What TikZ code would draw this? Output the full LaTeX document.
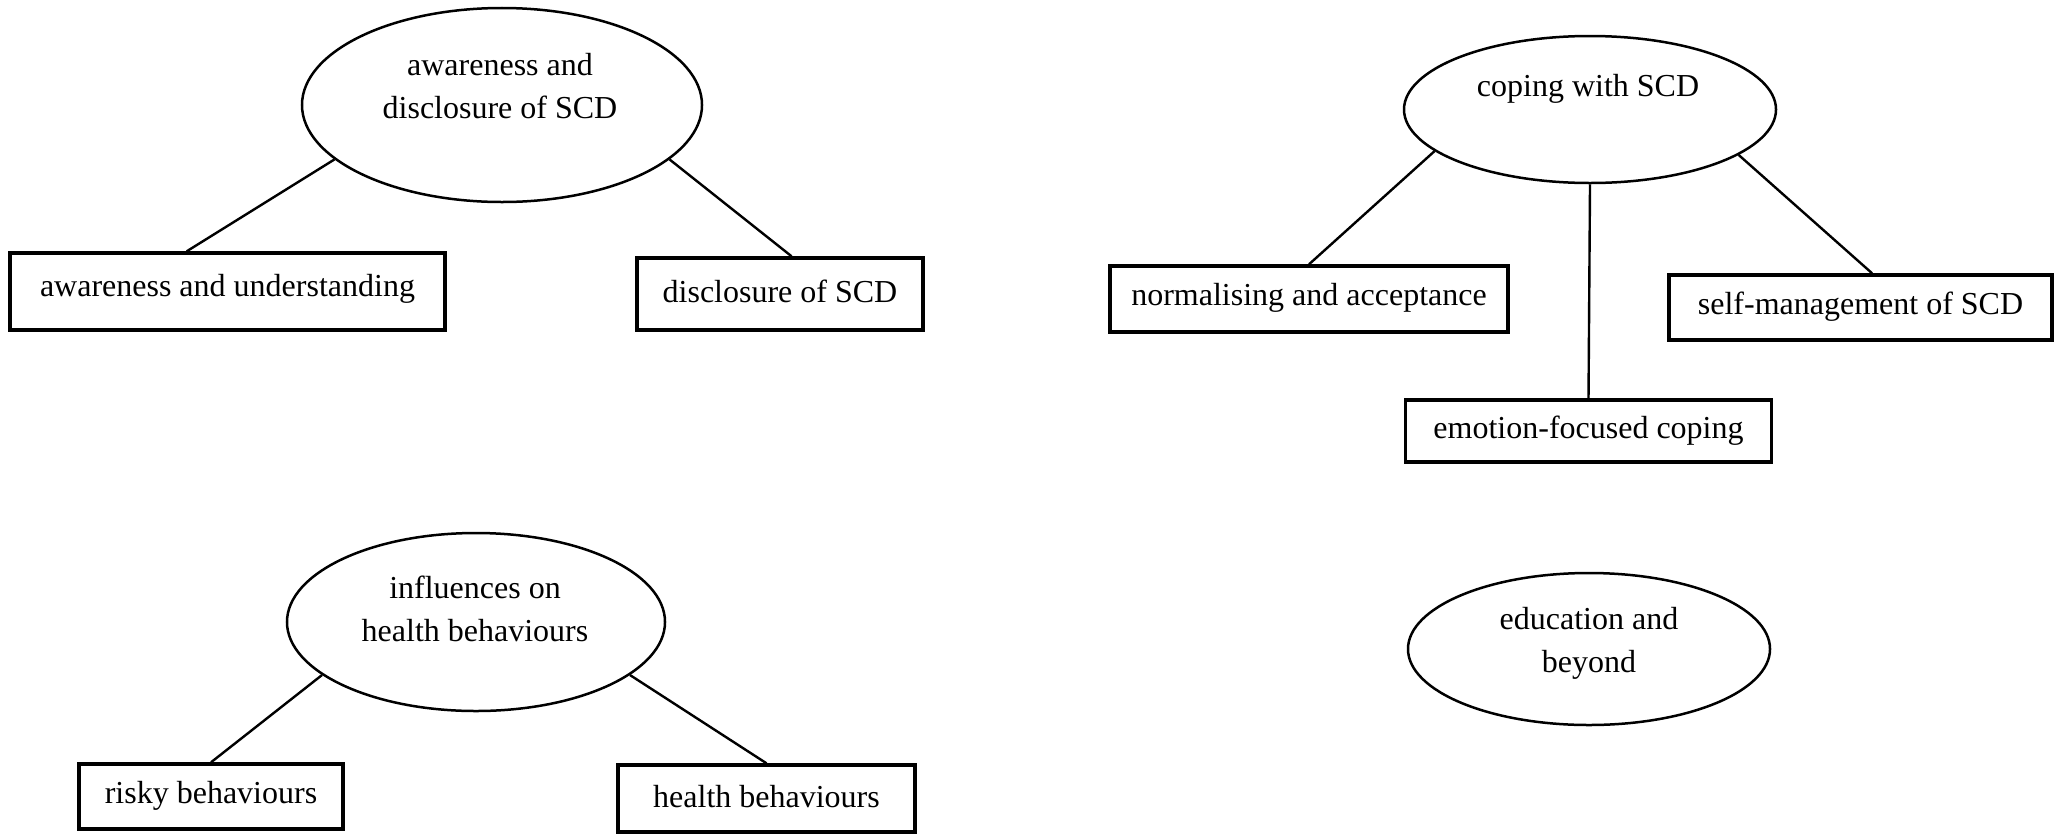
\documentclass[tikz,border=0pt]{standalone}
\usepackage{fontspec}
\setmainfont{Liberation Serif}
\usetikzlibrary{shapes.geometric,calc}
\tikzset{
  ell/.style={draw, ellipse, line width=1.25bp, inner sep=0pt},
  boxnode/.style={draw, rectangle, line width=1.7bp, inner sep=0pt},
  txt/.style={align=center, inner sep=0pt, font=\fontsize{16bp}{21.5bp}\selectfont},
  conn/.style={line width=1.2bp},
}
\begin{document}
\begin{tikzpicture}[x=0.5bp, y=-0.5bp]
\useasboundingbox (0,0) rectangle (2060,834);
% top-left group
\node[ell, minimum width=400bp*0.5, minimum height=194bp*0.5] (A) at (502,105) {};
\node[txt] (At) at (500,86) {awareness and\\disclosure of SCD};
\node[boxnode, minimum width=435bp*0.5, minimum height=77bp*0.5] (AU) at (227.5,291.5) {};
\node[txt] (AUt) at (227.5,289) {awareness and understanding};
\node[boxnode, minimum width=286bp*0.5, minimum height=72bp*0.5] (DS) at (780,294) {};
\node[txt] (DSt) at (780,291) {disclosure of SCD};
\draw[conn] (A.198) -- ($(AU.north west)!0.407!(AU.north east)$);
\draw[conn] (A.342.4) -- ($(DS.north west)!0.54!(DS.north east)$);
% top-right group
\node[ell, minimum width=372bp*0.5, minimum height=147bp*0.5] (C) at (1590,109.5) {};
\node[txt] (Ct) at (1588,89) {coping with SCD};
\node[boxnode, minimum width=398bp*0.5, minimum height=66bp*0.5] (NA) at (1309,299) {};
\node[txt] (NAt) at (1309,298) {normalising and acceptance};
\node[boxnode, minimum width=383bp*0.5, minimum height=65bp*0.5] (SM) at (1860.5,307.5) {};
\node[txt] (SMt) at (1860.5,307) {self-management of SCD};
\node[boxnode, minimum width=366bp*0.5, minimum height=62bp*0.5] (EF) at (1588.5,431) {};
\node[txt] (EFt) at (1588.5,431) {emotion-focused coping};
\draw[conn] (C.195.7) -- (NA.north);
\draw[conn] (C.south) -- (EF.north);
\draw[conn] (C.343.3) -- ($(SM.north west)!0.53!(SM.north east)$);
% bottom-left group
\node[ell, minimum width=378bp*0.5, minimum height=178bp*0.5] (I) at (476,622) {};
\node[txt] (It) at (475,609) {influences on\\health behaviours};
\node[boxnode, minimum width=264bp*0.5, minimum height=65bp*0.5] (RB) at (211,796.5) {};
\node[txt] (RBt) at (211,796) {risky behaviours};
\node[boxnode, minimum width=297bp*0.5, minimum height=67bp*0.5] (HB) at (766.5,798.5) {};
\node[txt] (HBt) at (766.5,797) {health behaviours};
\draw[conn] (I.199) -- (RB.north);
\draw[conn] (I.341.6) -- (HB.north);
% bottom-right
\node[ell, minimum width=362bp*0.5, minimum height=152bp*0.5] (E) at (1589,649) {};
\node[txt] (Et) at (1589,643) {education and\\beyond};
\end{tikzpicture}
\end{document}
